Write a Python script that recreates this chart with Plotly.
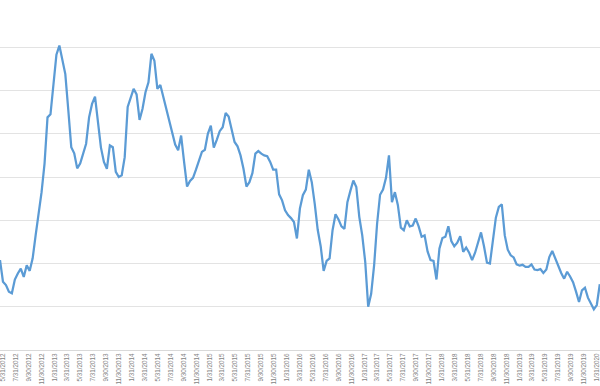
import pandas as pd
import plotly.graph_objects as go

start_date = "2012-05-17"
values_2012_2013 = [2.08, 1.58, 1.50, 1.35, 1.31, 1.63, 1.77, 1.88, 1.69, 1.96,
                    1.83, 2.12, 2.65, 3.12, 3.65, 4.31, 5.38, 5.45, 6.12, 6.83,
                    7.04, 6.68, 6.38, 5.55, 4.69, 4.55, 4.20, 4.31, 4.52, 4.77,
                    5.38, 5.69, 5.86, 5.23, 4.68, 4.35, 4.19, 4.73, 4.69, 4.12,
                    4.00]
values_2014_2015 = [4.04, 4.46, 5.62, 5.81, 6.04, 5.91, 5.32, 5.58, 5.96, 6.19,
                    6.85, 6.69, 6.04, 6.13, 5.85, 5.54, 5.31, 5.00, 4.75, 4.62,
                    4.96, 4.35, 3.78, 3.91, 3.98, 4.17, 4.38, 4.58, 4.63, 5.00,
                    5.19, 4.68, 4.86, 5.06, 5.15, 5.48, 5.40, 5.09, 4.81, 4.71]
values_2015_2017 = [4.50, 4.19, 3.78, 3.88, 4.09, 4.54, 4.60, 4.54, 4.50, 4.48,
                    4.35, 4.17, 4.17, 3.60, 3.46, 3.23, 3.12, 3.05, 2.96, 2.58,
                    3.27, 3.58, 3.71, 4.17, 3.88, 3.38, 2.78, 2.40, 1.83, 2.06,
                    2.12, 2.77, 3.14, 3.02, 2.86, 2.80, 3.42, 3.68, 3.92, 3.77,
                    3.08]
values_2017_2018 = [2.65, 2.04, 1.00, 1.30, 1.96, 2.92, 3.59, 3.71, 3.98, 4.50,
                    3.42, 3.65, 3.35, 2.83, 2.77, 3.00, 2.86, 2.88, 3.04, 2.86,
                    2.62, 2.65, 2.28, 2.08, 2.06, 1.63, 2.35, 2.59, 2.62, 2.86,
                    2.52, 2.40, 2.48, 2.63, 2.27, 2.37, 2.25, 2.08, 2.25, 2.50]
values_2018_2020 = [2.72, 2.40, 2.02, 2.00, 2.58, 3.06, 3.31, 3.37, 2.65, 2.32,
                    2.19, 2.14, 1.98, 1.95, 1.97, 1.92, 1.92, 1.98, 1.86, 1.85,
                    1.87, 1.78, 1.86, 2.15, 2.29, 2.12, 1.92, 1.78, 1.65, 1.81,
                    1.70, 1.57, 1.35, 1.11, 1.38, 1.44, 1.21, 1.08, 0.94, 1.04,
                    1.52]

values = values_2012_2013 + values_2014_2015 + values_2015_2017 + values_2017_2018 + values_2018_2020
dates = pd.date_range(start_date, periods=len(values), freq="14D")

tick_labels = [
    "5/31/2012", "7/31/2012", "9/30/2012", "11/30/2012",
    "1/31/2013", "3/31/2013", "5/31/2013", "7/31/2013", "9/30/2013", "11/30/2013",
    "1/31/2014", "3/31/2014", "5/31/2014", "7/31/2014", "9/30/2014", "11/30/2014",
    "1/31/2015", "3/31/2015", "5/31/2015", "7/31/2015", "9/30/2015", "11/30/2015",
    "1/31/2016", "3/31/2016", "5/31/2016", "7/31/2016", "9/30/2016", "11/30/2016",
    "1/31/2017", "3/31/2017", "5/31/2017", "7/31/2017", "9/30/2017", "11/30/2017",
    "1/31/2018", "3/31/2018", "5/31/2018", "7/31/2018", "9/30/2018", "11/30/2018",
    "1/31/2019", "3/31/2019", "5/31/2019", "7/31/2019", "9/30/2019", "11/30/2019",
    "1/31/2020",
]
tick_dates = pd.to_datetime(tick_labels, format="%m/%d/%Y")

fig = go.Figure()
fig.add_trace(go.Scatter(
    x=dates, y=values, mode="lines",
    line=dict(color="#5B9BD5", width=2.25),
    showlegend=False, hoverinfo="skip",
))

fig.update_layout(
    width=600, height=386,
    margin=dict(l=0, r=0, t=4, b=36),
    paper_bgcolor="white", plot_bgcolor="white",
    font=dict(family="Liberation Sans, Arial, sans-serif", color="#7f7f7f"),
)
fig.update_xaxes(
    type="date",
    range=["2012-05-17", "2020-02-14"],
    tickmode="array", tickvals=tick_dates, ticktext=tick_labels,
    tickangle=-90, tickfont=dict(size=6.3, color="#7f7f7f"),
    ticklabeloverflow="allow",
    showgrid=False, showline=True, linecolor="#d9d9d9", linewidth=1,
    ticks="", zeroline=False, automargin=False,
)
fig.update_yaxes(
    range=[0, 8.001], dtick=1, showticklabels=False,
    showgrid=True, gridcolor="#e3e3e3", gridwidth=1,
    zeroline=False, showline=False, ticks="", automargin=False,
)

fig.write_html(
    "out.html",
    config={"displayModeBar": False},
    post_script="document.body.style.margin='0';document.body.style.padding='0';",
)
